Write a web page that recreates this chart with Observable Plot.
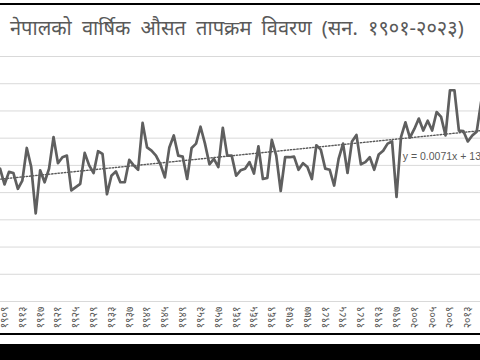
<!DOCTYPE html>
<html><head><meta charset="utf-8">
<script src="https://cdn.jsdelivr.net/npm/d3@7"></script>
<script src="https://cdn.jsdelivr.net/npm/@observablehq/plot@0.6"></script>
<style>
html,body{margin:0;padding:0;background:#fff;width:480px;height:360px;overflow:hidden;position:relative;}
#topline{position:absolute;left:0;top:3px;width:480px;height:1.5px;background:#000}
#title{position:absolute;left:10px;top:14px;font-size:20px;word-spacing:5px;font-family:"Noto Sans",sans-serif;color:#595959;white-space:nowrap;line-height:28px}
#chart{position:absolute;left:0;top:0}
#botline{position:absolute;left:0;top:333px;width:480px;height:2px;background:#000}
#botblock{position:absolute;left:0;top:344px;width:480px;height:16px;background:#000}
</style></head><body>
<div id="topline"></div>
<div id="title">नेपालको वार्षिक औसत तापक्रम विवरण (सन. १९०१-२०२३)</div>
<div id="chart"></div>
<div id="botline"></div>
<div id="botblock"></div>
<script>
const firstYear = 1901;
const temps = [
 13.30, 13.45, 13.20, 13.35, 13.10, 13.40, 13.25, // 1901-1907 (outside view)
 13.44, 13.15, 13.38, 13.36, 13.07, 13.22, 13.82, 13.47, 12.62, 13.41, // 1908-1917
 13.19, 13.44, 14.02, 13.54, 13.65, 13.68, 13.04, 13.10, 13.16, 13.73, // 1918-1927
 13.50, 13.36, 13.76, 13.71, 12.97, 13.31, 13.39, 13.19, 13.19, 13.60, // 1928-1937
 13.50, 13.42, 14.28, 13.83, 13.77, 13.68, 13.52, 13.28, 13.83, 14.05, // 1938-1947
 13.68, 13.66, 13.25, 13.82, 13.90, 14.21, 13.90, 13.52, 13.62, 13.47, // 1948-1957
 14.19, 13.68, 13.68, 13.31, 13.41, 13.44, 13.56, 13.35, 13.85, 13.25, // 1958-1967
 13.27, 13.97, 13.68, 13.03, 13.65, 13.65, 13.66, 13.42, 13.54, 13.47, // 1968-1977
 13.25, 13.87, 13.79, 13.44, 13.42, 13.13, 13.62, 13.90, 13.36, 13.94, // 1978-1987
 14.06, 13.52, 13.56, 13.65, 13.42, 13.70, 13.77, 13.90, 13.94, 12.92, // 1988-1997
 14.02, 14.29, 14.01, 14.17, 14.36, 14.14, 14.32, 14.14, 14.48, 14.39, // 1998-2007
 14.05, 14.88, 14.88, 14.14, 14.13, 13.94, 14.05, 14.12, 14.67, 14.45, // 2008-2017
 14.40, 14.35, 14.25, 14.55, 14.50, 14.70                              // 2018-2023
];
const years = temps.map((_, i) => firstYear + i);
const tickYears = [1909,1913,1917,1921,1925,1929,1933,1937,1941,1945,1949,1953,1957,1961,1965,1969,1973,1977,1981,1985,1989,1993,1997,2001,2005,2009,2013];
const gridValues = [11, 11.5, 12, 12.5, 13, 13.5, 14, 14.5, 15, 15.5];
const visibleYears = [1908.1, 2015.85];
const equationText = ["y = 0.0071x + 13.24"];
const equationYear = 1998.4;
const equationValue = 13.67;

const data = years.map((y, i) => ({year: y, temp: temps[i]}));
const deva = n => String(n).replace(/[0-9]/g, d => "०१२३४५६७८९"[d]);

const chart = Plot.plot({
  width: 480, height: 360,
  marginTop: 56, marginBottom: 59, marginLeft: 0, marginRight: 0,
  style: {background: "transparent", overflow: "hidden"},
  x: {domain: visibleYears},
  y: {domain: [gridValues[0], gridValues[gridValues.length - 1]], axis: null},
  marks: [
    Plot.ruleY(gridValues, {stroke: "#d9d9d9", strokeWidth: 1}),
    Plot.axisX(tickYears, {tickSize: 0, tickPadding: 5, tickRotate: -90, tickFormat: deva,
      fontSize: 10.5, fill: "#595959", fontFamily: "Noto Sans, sans-serif"}),
    Plot.linearRegressionY(data, {x: "year", y: "temp", ci: 0, stroke: "#595959",
      strokeWidth: 1.4, strokeDasharray: "1.4,1.8", clip: true}),
    Plot.line(data, {x: "year", y: "temp", stroke: "#5f5f5f", strokeWidth: 2.7,
      strokeLinejoin: "round", clip: true}),
    Plot.text(equationText, {x: () => equationYear, y: () => equationValue, text: d => d,
      textAnchor: "start", fontSize: 10.5, fill: "#595959", fontFamily: "Liberation Sans, sans-serif"})
  ]
});
document.getElementById("chart").appendChild(chart);
</script>
</body></html>
